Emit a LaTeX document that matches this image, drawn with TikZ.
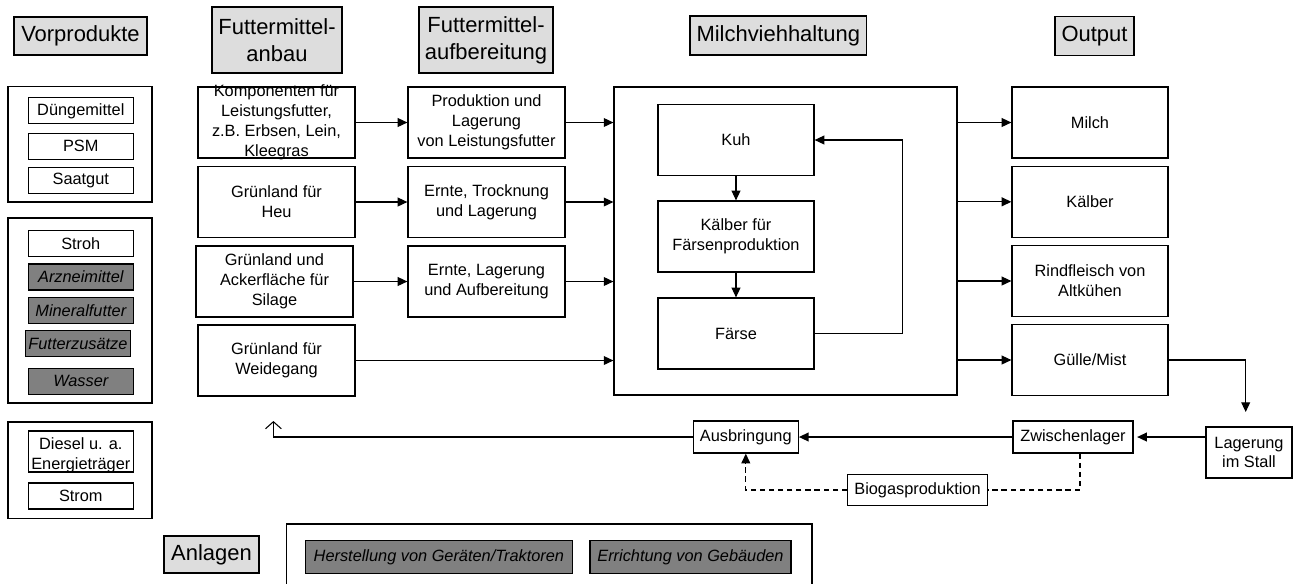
\documentclass[tikz,border=0pt]{standalone}
\usepackage{fontspec}
\setmainfont{Liberation Sans}
\usetikzlibrary{shapes,arrows.meta}
\definecolor{hdrgray}{HTML}{DDDDDD}
\definecolor{boxgray}{HTML}{808080}

\begin{document}
\begin{tikzpicture}[x=0.02cm, y=-0.02cm, ->, >={Triangle[length=5.5pt,width=5pt]},
    line width=0.7pt,
    txt/.style={align=center, inner sep=1pt, font=\fontsize{9.3}{11.3}\selectfont},
    box/.style={rectangle, draw, fill=white, txt},
    dark/.style={fill=boxgray, font=\fontsize{9.3}{11.3}\selectfont\itshape},
    head/.style={rectangle, draw, fill=hdrgray, align=center, inner sep=1pt,
                 font=\fontsize{12.5}{15.3}\selectfont},
    stock/.style={box, minimum width=2.10cm, minimum height=0.52cm},
    field/.style={box, minimum width=3.14cm, minimum height=1.42cm},
    herd/.style={box, minimum width=3.12cm, minimum height=1.42cm}]

      \useasboundingbox (0,0) rectangle (1295,583);

      % headers
      \node[head, minimum width=2.66cm, minimum height=0.76cm] (vorp) at (80.5,36) {Vorprodukte};
      \node[head, minimum width=2.60cm, minimum height=1.32cm] (anbau) at (277,40) {Futtermittel-\\anbau};
      \node[head, minimum width=2.68cm, minimum height=1.32cm] (aufb) at (486,40) {Futtermittel-\\aufbereitung};
      \node[head, minimum width=3.53cm, minimum height=0.78cm] (mvh) at (778.3,35.5) {Milchviehhaltung};
      \node[head, minimum width=1.58cm, minimum height=0.78cm] (outp) at (1094.5,36) {Output};
      \node[head, minimum width=1.90cm, minimum height=0.74cm] (anlh) at (211.5,554.5) {Anlagen};

      % Vorprodukte
      \node[box, minimum width=2.88cm, minimum height=2.31cm] (grp1) at (80,144.3) {};
      \node[stock] (duen) at (80.8,110.8) {Düngemittel};
      \node[stock] (psm) at (80.8,146.3) {PSM};
      \node[stock] (saat) at (80.8,180.3) {Saatgut};

      \node[box, minimum width=2.88cm, minimum height=3.70cm] (grp2) at (80,310.5) {};
      \node[stock] (stroh) at (80.8,243.5) {Stroh};
      \node[stock, dark] (arz) at (80.8,277) {Arzneimittel};
      \node[stock, dark] (minf) at (80.8,310.4) {Mineralfutter};
      \node[stock, dark, minimum width=2.09cm] (fzus) at (77.9,343.5) {Futterzusätze};
      \node[stock, dark] (wass) at (80.8,381.4) {Wasser};

      \node[box, minimum width=2.88cm, minimum height=1.93cm] (grp3) at (80,470.3) {};
      \node[stock, minimum height=0.82cm] (dies) at (80.8,451.5) {};
      \node[txt] (diest) at ([yshift=-2pt]dies.center) {Diesel u. a.\\Energieträger};
      \node[stock] (strom) at (80.8,496) {Strom};

      % Futtermittelanbau
      \node[field] (komp) at (276.5,122.5) {};
      \node[txt] (kompt) at (komp.center) {Komponenten für\\Leistungsfutter,\\z.B. Erbsen, Lein,\\Kleegras};
      \node[field] (heu) at (276.5,202) {Grünland für\\Heu};
      \node[field] (sil) at (274.5,281.5) {Grünland und\\Ackerfläche für\\Silage};
      \node[field] (weide) at (276.5,360.5) {Grünland für\\Weidegang};

      % Futtermittelaufbereitung
      \node[field] (prod) at (486.5,122.5) {Produktion und\\Lagerung\\von Leistungsfutter};
      \node[field] (tro) at (486.5,202) {Ernte, Trocknung\\und Lagerung};
      \node[field] (aufl) at (486.5,281.5) {Ernte, Lagerung\\und Aufbereitung};

      % Milchviehhaltung
      \node[box, minimum width=6.86cm, minimum height=6.16cm] (main) at (785.5,241) {};
      \node[herd] (kuh) at (736,140) {Kuh};
      \node[herd] (kalb) at (736,236.5) {Kälber für\\Färsenproduktion};
      \node[herd] (faerse) at (736,333.5) {Färse};

      % Output
      \node[herd] (milch) at (1090,122.5) {Milch};
      \node[herd] (kaelber) at (1090,201.8) {Kälber};
      \node[herd] (rind) at (1090,281) {Rindfleisch von\\Altkühen};
      \node[herd] (guelle) at (1090,360) {Gülle/Mist};

      % Wirtschaftsduenger
      \node[box, minimum width=1.72cm, minimum height=1.02cm] (lager) at (1249,452.5) {Lagerung\\im Stall};
      \node[box, minimum width=2.40cm, minimum height=0.64cm] (zwisch) at (1073,437) {Zwischenlager};
      \node[box, minimum width=2.10cm, minimum height=0.64cm] (ausbr) at (745.8,437) {Ausbringung};
      \node[box, minimum width=2.79cm, minimum height=0.63cm] (bio) at (917.5,490) {Biogasproduktion};
      \coordinate (lagtop) at (1245.7,412);
      \coordinate (ret) at (273.4,421);

      % Anlagen
      \node[box, minimum width=10.51cm, minimum height=1.52cm] (anl) at (549.4,562) {};
      \node[box, dark, minimum width=5.35cm, minimum height=0.65cm] (herst) at (438.9,557) {Herstellung von Geräten/Traktoren};
      \node[box, dark, minimum width=4.02cm, minimum height=0.65cm] (erri) at (690.5,557) {Errichtung von Gebäuden};

      \path
      % feed path
      (komp.east) edge (prod.west)
      (heu.east) edge (tro.west)
      (sil.east) edge (aufl.west)
      (prod.east) edge (prod.east -| main.west)
      (tro.east) edge (tro.east -| main.west)
      (aufl.east) edge (aufl.east -| main.west)
      (weide.east) edge (weide.east -| main.west)
      % herd
      (kuh.south) edge (kalb.north)
      (kalb.south) edge (faerse.north)
      % output
      (milch.west -| main.east) edge (milch.west)
      (kaelber.west -| main.east) edge (kaelber.west)
      (rind.west -| main.east) edge (rind.west)
      (guelle.west -| main.east) edge (guelle.west)
      (zwisch.west) edge (ausbr.east);

      \draw (faerse.east) -- ++(88,0) |- (kuh.east);
      \draw (guelle.east) -| (lagtop);
      \draw[shorten >=2pt] (lager.west |- zwisch.east) -- (zwisch.east);
      \draw[-{Straight Barb[length=4pt,width=9pt]}, line width=0.6pt] (ausbr.west) -| (ret);
      \draw[-, dash pattern=on 3pt off 2.2pt] ([xshift=0.14cm]zwisch.south) |- (bio.east);
      \draw[dash pattern=on 3pt off 2.2pt] (bio.west) -| (ausbr.south);

\end{tikzpicture}
\end{document}
